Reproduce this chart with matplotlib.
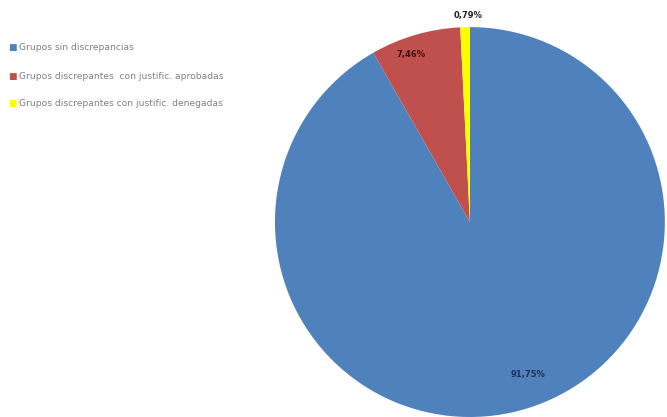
import matplotlib.pyplot as plt

# Data
labels = ['Grupos sin discrepancias',
          'Grupos discrepantes  con justific. aprobadas',
          'Grupos discrepantes con justific. denegadas']
values = [91.75, 7.46, 0.79]
pct_text = ['91,75%', '7,46%', '0,79%']
colors = ['#4f81bd', '#c0504d', '#ffff00']

fig = plt.figure(figsize=(6.67, 4.17), dpi=100)
ax = fig.add_axes([0.412, 0.0, 0.585, 0.935])

wedges, _ = ax.pie(values, colors=colors, startangle=90, counterclock=False,
                   radius=1.0, wedgeprops=dict(linewidth=0))
ax.set_xlim(-1, 1)
ax.set_ylim(-1, 1)
ax.set_aspect('equal')

# percent labels
ax.text(0.30, -0.78, pct_text[0], fontsize=6, fontweight='bold', color='#1f3050',
        ha='center', va='center')
ax.text(-0.30, 0.86, pct_text[1], fontsize=6, fontweight='bold', color='#3a1010',
        ha='center', va='center')
ax.text(-0.01, 1.06, pct_text[2], fontsize=6, fontweight='bold', color='#222222',
        ha='center', va='center')

# legend
ys = [0.887, 0.817, 0.752]
for lab, c, y in zip(labels, colors, ys):
    fig.text(0.012, y, '\u25a0', color=c, fontsize=6.5, va='center', ha='left')
    fig.text(0.029, y, lab, color='#808080', fontsize=6.6, va='center', ha='left')

fig.savefig('out.png', dpi=100)
